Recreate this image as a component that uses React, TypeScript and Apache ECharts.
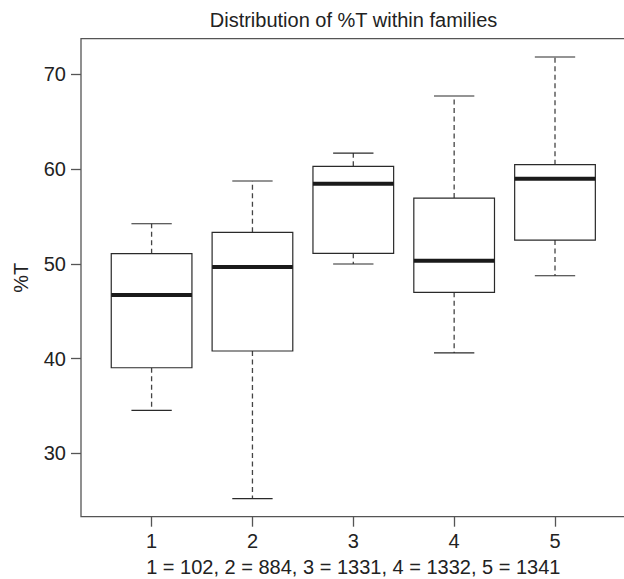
import React, { useEffect, useRef } from "react";
import * as echarts from "echarts";

// Group positions (categories) and five-number summaries
const groups = [1, 2, 3, 4, 5];
const lowerWhisker = [34.54, 25.21, 49.98, 40.6, 48.74];
const lowerQuartile = [39.03, 40.8, 51.11, 46.99, 52.51];
const medians = [46.71, 49.66, 58.45, 50.33, 58.98];
const upperQuartile = [51.07, 53.32, 60.29, 56.94, 60.46];
const upperWhisker = [54.23, 58.74, 61.69, 67.71, 71.83];

const xTicks = [1, 2, 3, 4, 5];
const yTicks = [30, 40, 50, 60, 70];

const titleText = "Distribution of %T within families";
const xAxisTitle = "1 = 102, 2 = 884, 3 = 1331, 4 = 1332, 5 = 1341";
const yAxisTitle = "%T";

const FONT = "'Liberation Sans', Arial, Helvetica, sans-serif";

export default function App() {
  const ref = useRef<HTMLDivElement>(null);

  useEffect(() => {
    if (!ref.current) return;
    const chart = echarts.init(ref.current, undefined, { renderer: "svg" });

    const data = groups.map((g, i) => [
      g,
      lowerWhisker[i],
      lowerQuartile[i],
      medians[i],
      upperQuartile[i],
      upperWhisker[i],
    ]);

    const boxHalf = 0.4;
    const capHalf = 0.2;

    const renderItem = (params: any, api: any) => {
      const x = api.value(0);
      const lo = api.value(1);
      const q1 = api.value(2);
      const med = api.value(3);
      const q3 = api.value(4);
      const hi = api.value(5);
      const c = (xx: number, yy: number) => api.coord([xx, yy]);
      const pLo = c(x, lo);
      const pQ1 = c(x, q1);
      const pMed = c(x, med);
      const pQ3 = c(x, q3);
      const pHi = c(x, hi);
      const left = c(x - boxHalf, q3)[0];
      const right = c(x + boxHalf, q3)[0];
      const capL = c(x - capHalf, hi)[0];
      const capR = c(x + capHalf, hi)[0];
      const dashStyle = { stroke: "#444", lineWidth: 1.3, lineDash: [5, 3.5] };
      const solid = { stroke: "#2a2a2a", lineWidth: 1.2 };
      return {
        type: "group",
        children: [
          { type: "line", shape: { x1: pQ3[0], y1: pQ3[1], x2: pHi[0], y2: pHi[1] }, style: dashStyle },
          { type: "line", shape: { x1: pQ1[0], y1: pQ1[1], x2: pLo[0], y2: pLo[1] }, style: dashStyle },
          { type: "line", shape: { x1: capL, y1: pHi[1], x2: capR, y2: pHi[1] }, style: solid },
          { type: "line", shape: { x1: capL, y1: pLo[1], x2: capR, y2: pLo[1] }, style: solid },
          {
            type: "rect",
            shape: { x: left, y: pQ3[1], width: right - left, height: pQ1[1] - pQ3[1] },
            style: { fill: "#fff", stroke: "#2a2a2a", lineWidth: 1.2 },
          },
          {
            type: "line",
            shape: { x1: left, y1: pMed[1], x2: right, y2: pMed[1] },
            style: { stroke: "#1a1a1a", lineWidth: 4 },
          },
        ],
      };
    };

    chart.setOption({
      animation: false,
      backgroundColor: "#fff",
      textStyle: { fontFamily: FONT },
      title: {
        text: titleText,
        left: 353.5,
        textAlign: "center",
        top: 10,
        padding: 0,
        textStyle: { fontFamily: FONT, fontSize: 20, fontWeight: "normal", color: "#222" },
      },
      grid: {
        left: 81,
        top: 38.7,
        width: 544.6,
        height: 478,
        show: true,
        borderColor: "#555",
        borderWidth: 1.3,
        backgroundColor: "transparent",
        containLabel: false,
        outerBoundsMode: "none",
      },
      xAxis: {
        type: "value",
        min: 0.3,
        max: 5.7,
        splitLine: { show: false },
        axisLine: { show: false },
        axisTick: {
          show: true,
          length: 10,
          lineStyle: { color: "#555", width: 1.3 },
          customValues: xTicks,
        },
        axisLabel: {
          customValues: xTicks,
          margin: 14,
          fontSize: 20,
          fontFamily: FONT,
          color: "#222",
        },
        name: xAxisTitle,
        nameLocation: "middle",
        nameGap: 40.5,
        nameTextStyle: { fontSize: 20, fontFamily: FONT, color: "#222" },
      },
      yAxis: {
        type: "value",
        min: 23.31,
        max: 73.76,
        splitLine: { show: false },
        axisLine: { show: false },
        axisTick: {
          show: true,
          length: 10,
          lineStyle: { color: "#555", width: 1.3 },
          customValues: yTicks,
        },
        axisLabel: {
          customValues: yTicks,
          margin: 15,
          fontSize: 20,
          fontFamily: FONT,
          color: "#222",
        },
        name: yAxisTitle,
        nameLocation: "middle",
        nameGap: 50,
        nameRotate: 90,
        nameTextStyle: { fontSize: 20, fontFamily: FONT, color: "#222" },
      },
      series: [
        {
          type: "custom",
          renderItem,
          data,
          encode: { x: 0, y: [1, 2, 3, 4, 5] },
          clip: false,
        },
      ],
    });

    return () => chart.dispose();
  }, []);

  return (
    <div
      ref={ref}
      style={{ position: "absolute", left: 0, top: 0, width: 624, height: 579 }}
    />
  );
}
